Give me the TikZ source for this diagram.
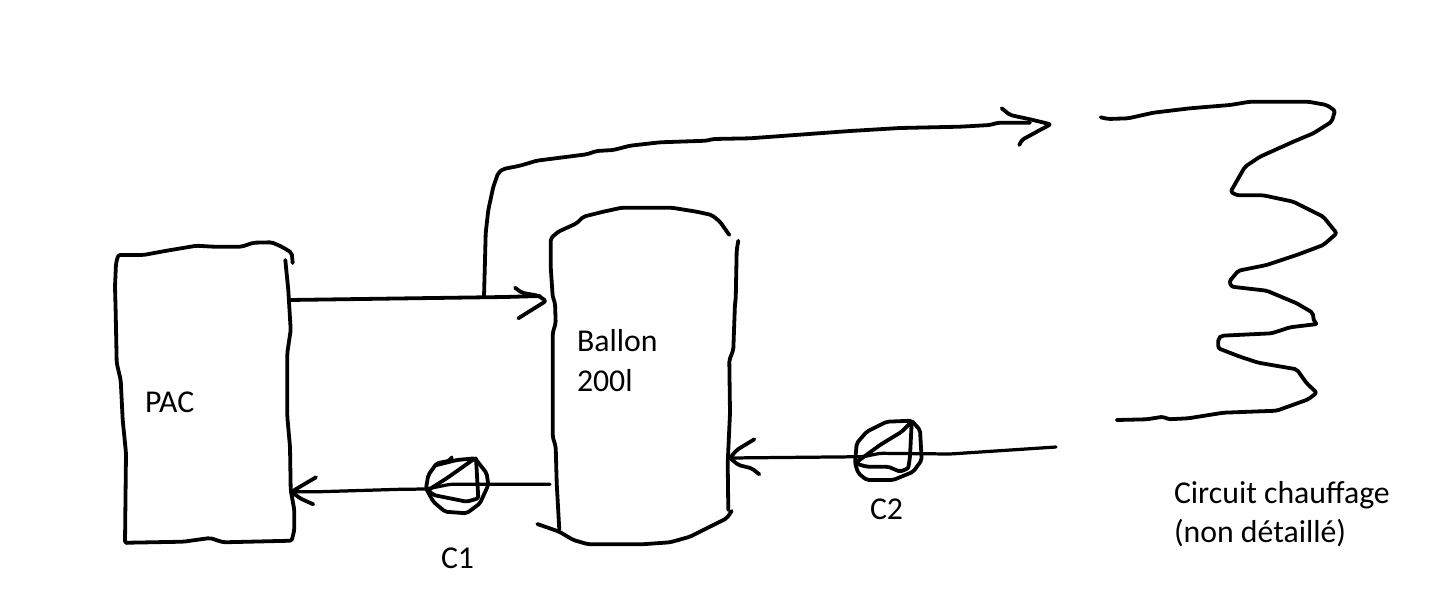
\documentclass[tikz,border=0pt]{standalone}
\usepackage{fontspec}
\setmainfont{Carlito}
\tikzset{
  x=0.025cm,y=-0.025cm,
  ink/.style={draw=black,line width=2.7pt,line cap=round,line join=round,rounded corners=1.5pt},
  thinink/.style={ink,line width=2.3pt},
  lab/.style={anchor=base west,inner sep=0pt,outer sep=0pt,font=\fontsize{22.6}{26}\selectfont,text=black}
}
\begin{document}
\begin{tikzpicture}
\useasboundingbox (0,0) rectangle (1455,613);
% text
\node[lab] (pac) at (145,412) {PAC};
\node[lab] (ballon) at (577,351) {Ballon};
\node[lab] (vol) at (577,391) {200l};
\node[lab] (c1) at (441,568) {C1};
\node[lab] (c2) at (870,519) {C2};
\node[lab] (circ) at (1174,503) {Circuit chauffage};
\node[lab] (nd) at (1174,542) {(non détaillé)};
% connector ends
\coordinate (pacout) at (289,300);
\coordinate (tee) at (484,297);
\coordinate (ballonin) at (546,301);
\coordinate (circin) at (1050.7,124.3);
\coordinate (ballonout) at (550,484.3);
\coordinate (pacin) at (291.7,491.7);
\coordinate (circout) at (1056,447);
\coordinate (ballonret) at (730,458);
% PAC
\draw[ink] (292.7,263) -- (291.7,252.7) -- (281.7,246.7) -- (271.7,242.3) -- (253.3,242.7) -- (241.7,246.7) -- (213.3,246.7) -- (196.7,245.7) -- (166.7,250.7) -- (143.3,255) -- (118.3,255) -- (116,263.3) -- (115,286.7) -- (115.7,313) -- (116.7,363) -- (120.7,380) -- (122.7,420) -- (126,453) -- (125,543) -- (128.3,542.7) -- (183.3,541.7) -- (210,538) -- (223.3,542.3) -- (291.7,540.7) -- (294.3,530) -- (294.3,510) -- (290.7,490) -- (290,446.7) -- (287.3,416.7) -- (287.3,353) -- (290.7,330) -- (288.3,290) -- (285.3,260);
% Ballon
\draw[ink] (729.3,235) -- (720,221.7) -- (711.7,215) -- (696.7,211.7) -- (671.7,207.7) -- (621.7,207.7) -- (603.3,211.7) -- (583.3,216.7) -- (576.7,223.3) -- (558.3,231.7) -- (550.7,238.3) -- (550.7,266.7) -- (552.7,296.7) -- (555,303) -- (555.7,323) -- (552.7,333) -- (552.7,436.7) -- (555.7,446.7) -- (556.7,483) -- (559.3,530);
\draw[ink] (537.3,524) -- (559.3,531.7) -- (573.3,540) -- (588.3,544.3) -- (641.7,544.3) -- (670,542.3) -- (690,536.7) -- (716.7,523.3) -- (726.7,518.3) -- (731.7,511);
\draw[ink] (738.3,240.7) -- (736.7,250) -- (735.7,300) -- (735,303) -- (733.3,350) -- (729.3,360) -- (730,413) -- (727.7,463) -- (728.3,510);
% PAC -> Ballon
\draw[ink] (pacout) -- (505,297) -- (540,296);
\draw[ink] (515,287.7) -- (521.7,292.7) -- (538.3,295.7) -- (ballonin) -- (518.3,318.3);
% branch to heating circuit
\draw[ink] (tee) -- (485,260) -- (485.7,233) -- (488.3,210) -- (493.3,186.7) -- (498.3,172.7) -- (503.3,169) -- (520,165.7) -- (536.7,160.7) -- (586.7,154.3) -- (596.7,151) -- (613.3,150) -- (630,145.7) -- (660,142.3) -- (706.7,140.7) -- (713,139) -- (750,138.3) -- (850,131) -- (900,128) -- (960,126.7) -- (990,125) -- (998,122.7) -- (1030,122.7);
\draw[ink] (1001.7,108.3) -- (1010,115) -- (1030,119.3) -- (circin) -- (1040,130) -- (1021.7,140) -- (1019.3,145);
% Ballon -> PAC
\draw[thinink] (ballonout) -- (450,484.3) -- (426.7,489) -- (400,489.3) -- (320,491.7) -- (pacin);
\draw[ink] (316,477.3) -- (300,486.7) -- (pacin) -- (300,498.3) -- (313.3,504.3);
% pump C1
\draw[ink] (451.7,457.3) -- (450,460.7) -- (436.7,463.3) -- (428.3,475) -- (426,488.3) -- (433.3,501.7) -- (445,511.7) -- (466.7,513.3) -- (480,503.3) -- (488.3,485) -- (486.7,473.3) -- (475,458.3) -- (456.7,460) -- (436.7,465);
\draw[ink] (475,458.3) -- (446.7,478.3) -- (428.3,490) -- (433.3,495) -- (466.7,501.7) -- (478.3,498.3) -- (476,458.3);
% return -> Ballon
\draw[thinink] (circout) -- (950,454) -- (880,453.3) -- (863.3,456.7) -- (ballonret);
\draw[ink] (754.3,439.3) -- (736.7,450) -- (ballonret) -- (738.3,465) -- (751.7,468.3) -- (759.3,474.3);
% pump C2
\draw[ink] (855,463.3) -- (856.7,443.3) -- (866.7,431.7) -- (886.7,421.7) -- (911.7,420.7) -- (920,430) -- (921.7,460) -- (913.3,471.7) -- (893.3,480) -- (866.7,480) -- (858.3,473.3) -- cycle;
\draw[ink] (911.7,421.7) -- (901.7,431.7) -- (880,445) -- (855,463.3) -- (866.7,466.7) -- (888.3,466.7) -- (900,471.7) -- (908.3,468.3) -- (910,456.7) -- (911.7,421.7);
% heating circuit
\draw[ink] (1100.7,117.3) -- (1108.3,119) -- (1128.3,118.3) -- (1153.3,112.7) -- (1190,108.3) -- (1230,105) -- (1250,101.7) -- (1308.3,101.7) -- (1326.7,105) -- (1335,110.7) -- (1331.7,121.7) -- (1313.3,133.3) -- (1293.3,141.7) -- (1260,156.7) -- (1245,166.7) -- (1238.3,178.3) -- (1230.7,191.7) -- (1236.7,195.3) -- (1263.3,195.3) -- (1293.3,201.7) -- (1323.3,216.7) -- (1336.7,233.3) -- (1323.3,245) -- (1296.7,255) -- (1266.7,265) -- (1238.3,270.7) -- (1233.3,276.7) -- (1229.3,281.7) -- (1231.7,286.7) -- (1266.7,290.7) -- (1296.7,303.3) -- (1312.7,312.7) -- (1314,321.7) -- (1317.3,324) -- (1290,327.3) -- (1271.7,333.3) -- (1221.7,335.7) -- (1218.3,338.3) -- (1218.3,348.3) -- (1240,356.7) -- (1258.3,362.7) -- (1296.7,369.3) -- (1306.7,383.3) -- (1316.7,392.7) -- (1308.3,399.3) -- (1276.7,410.7) -- (1223.3,412.7) -- (1188.3,418.3) -- (1168.3,419.3) -- (1163.3,416.7) -- (1146.7,419.3) -- (1116.7,420);
\end{tikzpicture}
\end{document}
